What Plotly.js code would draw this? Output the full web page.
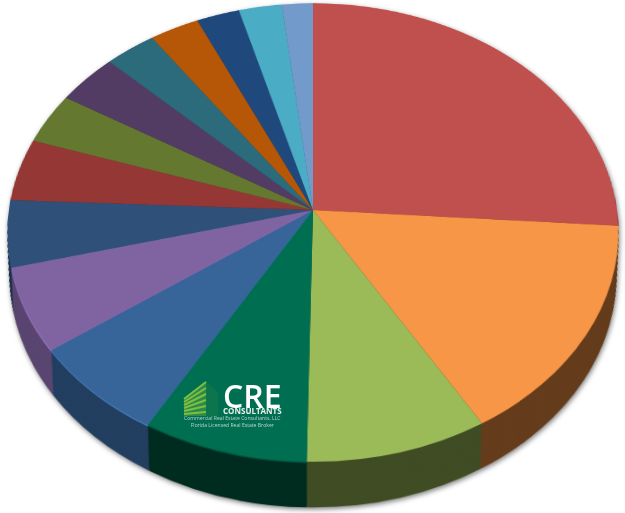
<!DOCTYPE html>
<html>
<head>
<meta charset="utf-8">
<script src="https://cdn.plot.ly/plotly-3.0.1.min.js"></script>
<style>
html,body{margin:0;padding:0;background:#fff;width:625px;height:513px;overflow:hidden}
#shadow{position:absolute;left:0;top:0;width:625px;height:513px;filter:drop-shadow(1px 2px 2.5px rgba(0,0,0,.5))}
#pie{position:absolute;left:0;top:0;width:640px;height:700px;transform-origin:320px 320px;
transform:translate(-7px,-110px) matrix3d(1.01333,0,0,0, 0,.75667,0,-.000327, 0,0,1,0, 0,0,0,1)}
#logo{position:absolute;left:0;top:0;width:625px;height:513px}
</style>
</head>
<body>
<div id="shadow"><div id="pie"></div></div>
<div id="logo"></div>
<script>
const shares = [26.1,15.4,8.8,8.0,6.8,5.9,4.7,4.4,3.6,3.6,3.0,2.9,2.5,2.5,1.8];
const topColors = ['#C0504D','#F79646','#9BBB59','#006E51','#376499','#8064A2','#2E5079','#953735','#65782F','#533C63','#2B6B7C','#B65708','#1F497D','#4BACC6','#729ACA'];
const wallFactors = [.41,.41,.41,.40,.63,.70,.62,.6,.6,.6,.6,.6,.6,.6,.6];
const rimFactors = [.41,.41,.41,.75,1.25,1.25,1.2,.6,.6,.6,.6,.6,.6,.6,.6];

function shade(hex,f){
  const n=parseInt(hex.slice(1),16);
  return 'rgb('+[(n>>16)&255,(n>>8)&255,n&255].map(v=>Math.min(255,Math.round(v*f))).join(',')+')';
}
const W=640,H=700,CX=320,CY=320,R=300,LAYERS=36;
function pieLayer(t,colors){
  const r=R*(1-0.025*t), cy=CY+R*0.186*t;
  return {type:'pie',values:shares,sort:false,direction:'clockwise',rotation:0,textinfo:'none',
    hoverinfo:'skip',showlegend:false,marker:{colors:colors,line:{width:0}},
    domain:{x:[(CX-r)/W,(CX+r)/W],y:[1-(cy+r)/H,1-(cy-r)/H]}};
}
const wallColors=topColors.map((c,i)=>shade(c,wallFactors[i]));
const rimColors=topColors.map((c,i)=>shade(c,rimFactors[i]));
const traces=[];
for(let i=LAYERS;i>=1;i--) traces.push(pieLayer(i/LAYERS,wallColors));
traces.push(pieLayer(0.03,rimColors));
traces.push(pieLayer(0,topColors));
Plotly.newPlot('pie',traces,{width:W,height:H,margin:{l:0,r:0,t:0,b:0},
  paper_bgcolor:'rgba(0,0,0,0)',plot_bgcolor:'rgba(0,0,0,0)'},{displayModeBar:false,staticPlot:true});

const logoFont='"Open Sans","Liberation Sans",sans-serif';
const logoText=[
  {text:'CRE',x:252.5,y:395,size:32,color:'#fff',weight:600},
  {text:'CONSULTANTS',x:252.5,y:410.5,size:8,color:'#E8F2EC',weight:700},
  {text:'Commercial Real Estate Consultants, LLC<br>Florida Licensed Real Estate Broker',x:232.5,y:421.5,size:5.1,color:'#B9D6C8',weight:400}
];
const stripes=[[184,399,206,382],[184,402,206,388],[184,405,206,394],[184,408,206,400],[184,411,206,406],[184,414,206,412]];
const shapes=stripes.map(s=>({type:'line',xref:'x',yref:'y',x0:s[0],y0:s[1],x1:s[2],y1:s[3],line:{color:'#7FBF3F',width:2}}));
shapes.push({type:'path',xref:'x',yref:'y',path:'M 184 399 L 206 382 L 206 416 L 184 416 Z',fillcolor:'rgba(127,191,63,.35)',line:{width:0}});
shapes.push({type:'path',xref:'x',yref:'y',path:'M 206 382 L 218 392 L 218 416 L 206 416 Z',fillcolor:'rgba(127,191,63,.10)',line:{width:0}});
Plotly.newPlot('logo',[],{width:625,height:513,margin:{l:0,r:0,t:0,b:0},
  paper_bgcolor:'rgba(0,0,0,0)',plot_bgcolor:'rgba(0,0,0,0)',
  xaxis:{range:[0,625],visible:false,fixedrange:true},
  yaxis:{range:[513,0],visible:false,fixedrange:true},
  shapes:shapes,
  annotations:logoText.map(a=>({text:a.text,x:a.x,y:a.y,xref:'x',yref:'y',showarrow:false,
    font:{family:logoFont,size:a.size,color:a.color,weight:a.weight},xanchor:'center',yanchor:'middle'}))
},{displayModeBar:false,staticPlot:true});
</script>
</body>
</html>
